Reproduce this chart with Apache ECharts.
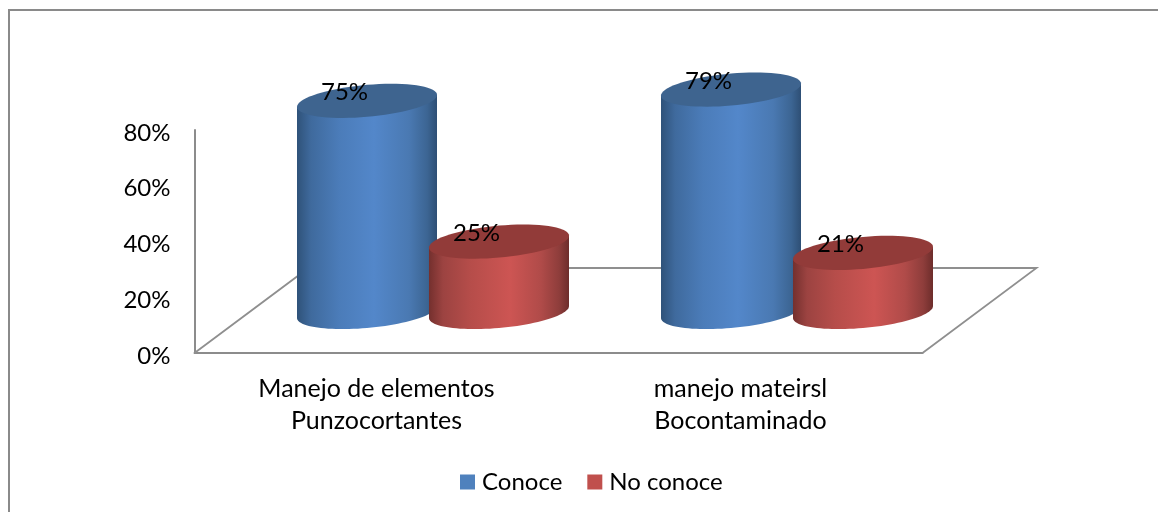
<!DOCTYPE html>
<html><head><meta charset="utf-8">
<style>html,body{margin:0;padding:0;background:#fff}#c{width:1158px;height:512px}</style>
<script src="https://cdn.jsdelivr.net/npm/echarts@6/dist/echarts.min.js"></script>
</head><body><div id="c"></div>
<script>
const categories = ['Manejo de elementos\nPunzocortantes', 'manejo mateirsl\nBocontaminado'];
const conoce = [75, 79];
const noConoce = [25, 21];
const seriesNames = ['Conoce', 'No conoce'];
const fontFamily = 'Lato, Carlito, "Open Sans", sans-serif';

const RX = 70, RY = 16, SHEAR = -6 / 70, LIFT = 41, HEIGHT_SCALE = 1.01;

function ellipsePts(cx, cy, from, to, n) {
  const pts = [];
  for (let i = 0; i <= n; i++) {
    const t = from + (to - from) * i / n;
    const dx = RX * Math.cos(t);
    pts.push([cx + dx, cy + RY * Math.sin(t) + SHEAR * dx]);
  }
  return pts;
}
function grad(stops) {
  return {type:'linear',x:0,y:0,x2:1,y2:0,global:false,
    colorStops:stops.map(s=>({offset:s[0],color:s[1]}))};
}
function cylinder(offsetX, stops, topColor) {
  return function (params, api) {
    const v = api.value(1);
    const base = api.coord([api.value(0), 0]);
    const cx = base[0] + offsetX;
    const by = base[1] - LIFT;
    const ty = by - api.size([0, v])[1] * HEIGHT_SCALE;
    const top = ellipsePts(cx, ty, 0, Math.PI * 2, 72);
    const body = [[cx + RX, ty + SHEAR * RX]].concat(ellipsePts(cx, by, 0, Math.PI, 48));
    body.push([cx - RX, ty - SHEAR * RX]);
    return {type:'group',children:[
      {type:'polygon',shape:{points:body},style:{fill:grad(stops)}},
      {type:'polygon',shape:{points:top},style:{fill:topColor}},
      {type:'text',style:{text:v+'%',x:cx-22.5,y:ty-8.5,align:'center',verticalAlign:'middle',
        fontSize:24,fontFamily:fontFamily,fill:'#000'}}
    ]};
  };
}
const blueStops=[[0,'#2f5279'],[0.1,'#3f6a9d'],[0.3,'#4b7cb9'],[0.55,'#5387ca'],[0.8,'#4a79b2'],[0.93,'#3c6593'],[1,'#2e4f75']];
const redStops=[[0,'#74302e'],[0.1,'#9c4341'],[0.3,'#b64d4a'],[0.58,'#cd5553'],[0.8,'#b04b49'],[0.93,'#8e3d3b'],[1,'#6d2d2b']];

const chart = echarts.init(document.getElementById('c'));
chart.setOption({
  animation:false,
  backgroundColor:'#fff',
  graphic:[
    {type:'line',shape:{x1:8,y1:10,x2:1158,y2:10},style:{stroke:'#8a8a8a',lineWidth:2}},
    {type:'line',shape:{x1:9,y1:9,x2:9,y2:512},style:{stroke:'#8a8a8a',lineWidth:2}}
  ],
  grid:{left:194.5,right:235.5,top:130,bottom:159,containLabel:false},
  legend:{left:455,top:465,itemWidth:15,itemHeight:15,itemGap:25,icon:'rect',
    textStyle:{fontSize:24,fontFamily:fontFamily,color:'#000',padding:[0,0,0,2]},
    data:seriesNames},
  xAxis:{type:'category',data:categories,
    axisLine:{lineStyle:{color:'#8c8c8c',width:2}},axisTick:{show:false},
    axisLabel:{color:'#000',fontSize:25,fontFamily:fontFamily,lineHeight:32,margin:20,interval:0}},
  yAxis:{type:'value',min:0,max:80,interval:20,
    axisLine:{show:true,lineStyle:{color:'#8c8c8c',width:2}},axisTick:{show:false},splitLine:{show:false},
    axisLabel:{formatter:'{value}%',color:'#000',fontSize:24,fontFamily:fontFamily,margin:24,verticalAlign:'top',lineHeight:6}},
  series:[
    {type:'custom',name:'floor',data:[[0,0]],silent:true,
     renderItem:function(p,api){
       const a=api.coord([0,0]); const w=api.size([1,0])[0]*2;
       const x0=a[0]-api.size([1,0])[0]/2; const y0=a[1];
       const dx=114, dy=85;
       return {type:'polyline',shape:{points:[[x0,y0],[x0+dx,y0-dy],[x0+w+dx,y0-dy],[x0+w,y0]]},
         style:{fill:'none',stroke:'#8f8f8f',lineWidth:1.8}};
     }},
    {type:'custom',name:seriesNames[0],itemStyle:{color:'#4f81bd'},
     data:conoce.map((v,i)=>[i,v]),encode:{x:0,y:1},renderItem:cylinder(-9.5,blueStops,'#3e648f')},
    {type:'custom',name:seriesNames[1],itemStyle:{color:'#c0504d'},
     data:noConoce.map((v,i)=>[i,v]),encode:{x:0,y:1},renderItem:cylinder(122.5,redStops,'#923b39')}
  ]
});
</script></body></html>
